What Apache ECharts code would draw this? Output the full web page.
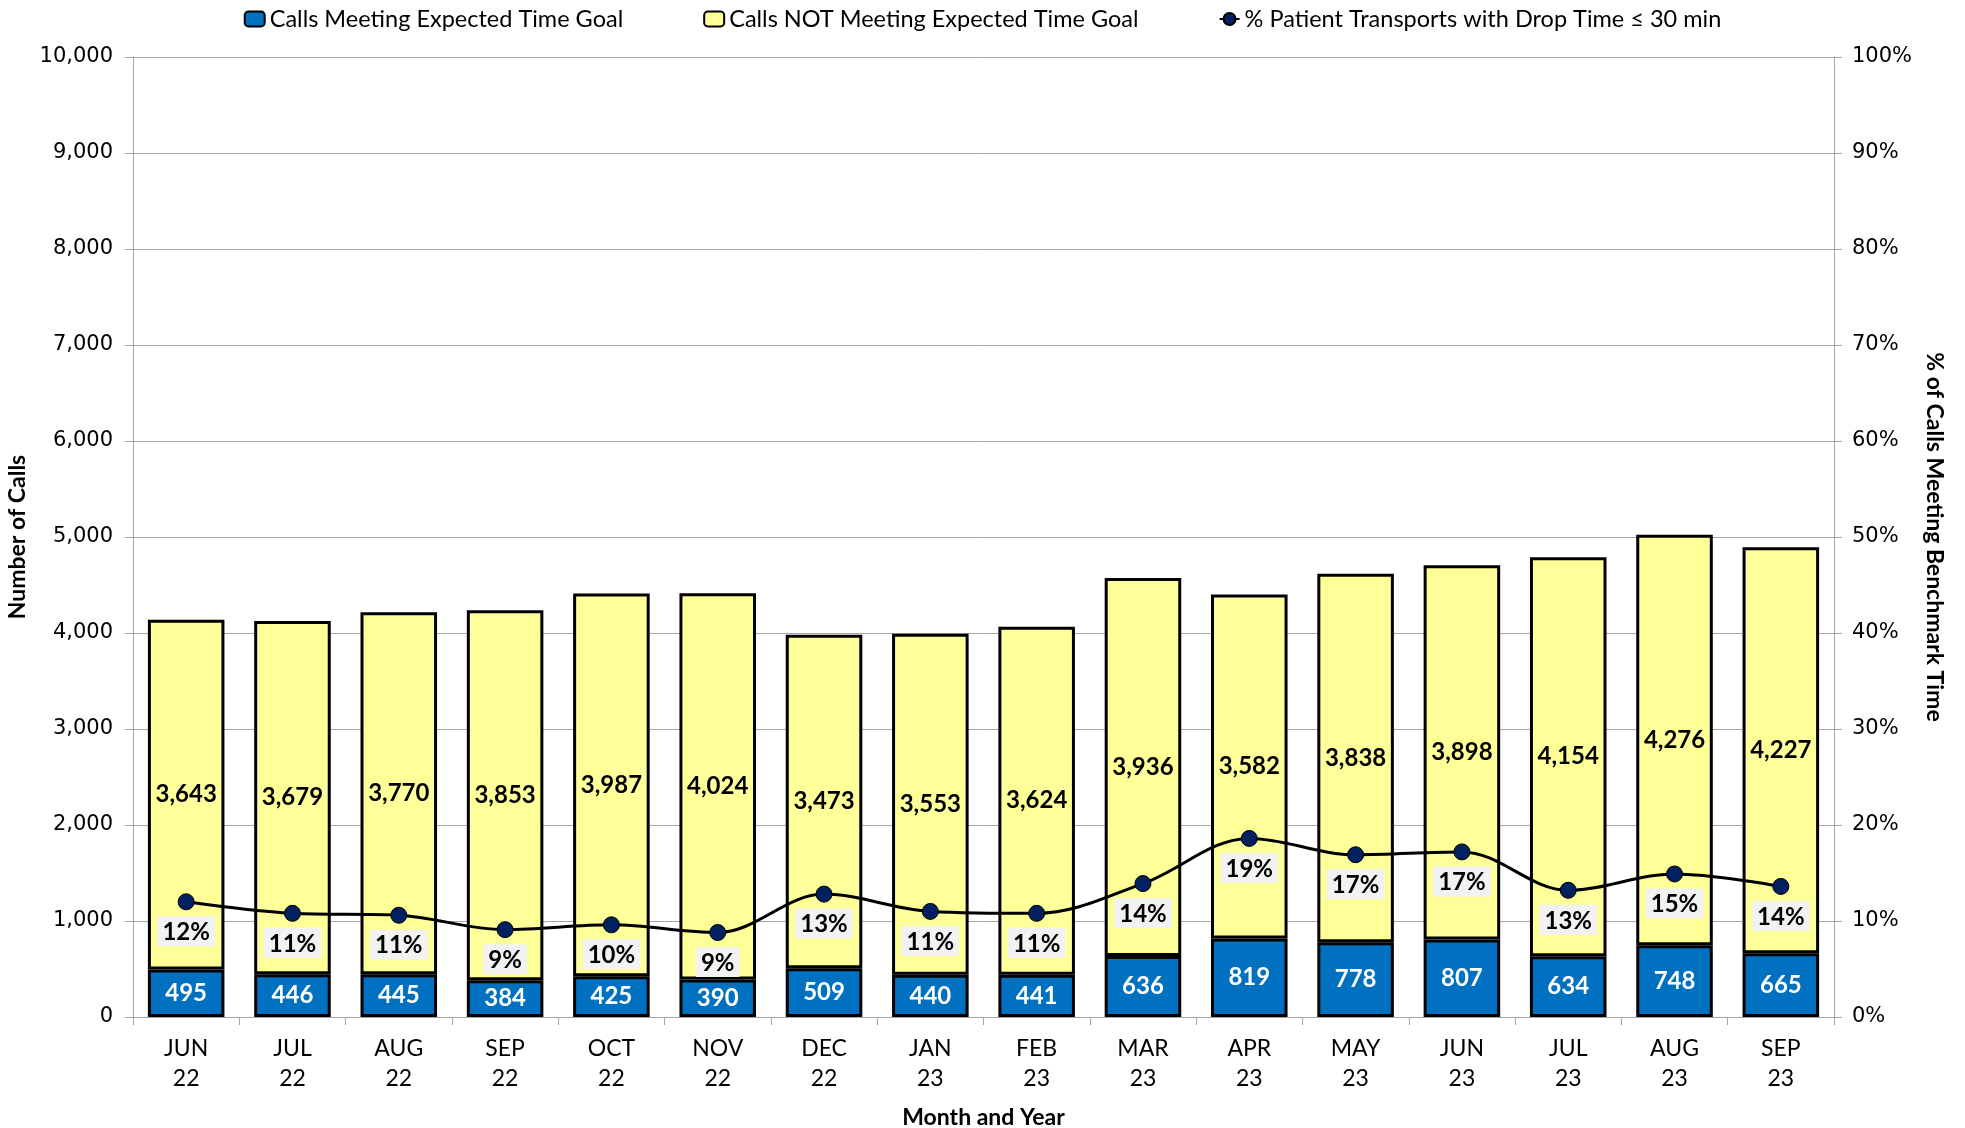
<!DOCTYPE html>
<html>
<head>
<meta charset="utf-8">
<script src="https://cdn.jsdelivr.net/npm/echarts@6/dist/echarts.min.js"></script>
<style>html,body{margin:0;padding:0;background:#fff}#c{width:1965px;height:1128px}</style>
</head>
<body>
<div id="c"></div>
<script>
const categories = ['JUN\n22','JUL\n22','AUG\n22','SEP\n22','OCT\n22','NOV\n22','DEC\n22','JAN\n23','FEB\n23','MAR\n23','APR\n23','MAY\n23','JUN\n23','JUL\n23','AUG\n23','SEP\n23'];
const meeting = [495,446,445,384,425,390,509,440,441,636,819,778,807,634,748,665];
const notMeeting = [3643,3679,3770,3853,3987,4024,3473,3553,3624,3936,3582,3838,3898,4154,4276,4227];
const pctDrop = [12.0,10.8,10.6,9.1,9.6,8.8,12.8,11.0,10.8,13.9,18.6,16.9,17.2,13.2,14.9,13.6];

const narrow = 'Lato, "Open Sans", sans-serif';
const wide = '"DejaVu Sans", Verdana, sans-serif';
const fmt = v => v.toLocaleString('en-US');

const chart = echarts.init(document.getElementById('c'), null, {renderer:'canvas'});
chart.setOption({
  animation:false,
  backgroundColor:'#fff',
  grid:{left:133,right:131,top:57,bottom:111,containLabel:false,outerBoundsMode:'none'},
  legend:{
    top:2,left:'center',itemGap:80,itemWidth:20,itemHeight:15,
    textStyle:{fontFamily:narrow,fontSize:23.5,color:'#000'},
    data:[
      {name:'Calls Meeting Expected Time Goal',icon:'roundRect'},
      {name:'Calls NOT Meeting Expected Time Goal',icon:'roundRect'},
      {name:'% Patient Transports with Drop Time ≤ 30 min'}
    ]
  },
  xAxis:{
    type:'category',data:categories,
    name:'Month and Year',nameLocation:'middle',nameGap:89,
    nameTextStyle:{fontFamily:narrow,fontSize:23,fontWeight:'bold',color:'#000'},
    axisLine:{lineStyle:{color:'#a6a6a6',width:1}},
    axisTick:{show:true,alignWithLabel:false,length:8,lineStyle:{color:'#a6a6a6'}},
    axisLabel:{fontFamily:narrow,fontSize:23,color:'#000',lineHeight:30,margin:17,interval:0}
  },
  yAxis:[{
    type:'value',min:0,max:10000,interval:1000,
    name:'Number of Calls',nameLocation:'middle',nameGap:101,nameRotate:90,
    nameTextStyle:{fontFamily:narrow,fontSize:23,fontWeight:'bold',color:'#000'},
    axisLine:{show:true,lineStyle:{color:'#a6a6a6'}},
    axisTick:{show:true,length:8,lineStyle:{color:'#a6a6a6'}},
    axisLabel:{fontFamily:wide,fontSize:21,color:'#000',margin:20,formatter:v=>fmt(v)},
    splitLine:{lineStyle:{color:'#a6a6a6',width:1}}
  },{
    type:'value',min:0,max:100,interval:10,
    name:'% of Calls Meeting Benchmark Time',nameLocation:'middle',nameGap:88,nameRotate:-90,
    nameTextStyle:{fontFamily:narrow,fontSize:23,fontWeight:'bold',color:'#000'},
    axisLine:{show:true,lineStyle:{color:'#a6a6a6'}},
    axisTick:{show:true,length:8,lineStyle:{color:'#a6a6a6'}},
    axisLabel:{fontFamily:wide,fontSize:21,color:'#000',margin:18,formatter:v=>v+'%'},
    splitLine:{show:false}
  }],
  series:[{
    name:'Calls Meeting Expected Time Goal',type:'bar',stack:'calls',data:meeting,
    barCategoryGap:'28%',
    itemStyle:{color:'#0070C0',borderColor:'#000',borderWidth:3},
    label:{show:true,position:'inside',fontFamily:narrow,fontSize:24,fontWeight:'bold',color:'#fff',formatter:p=>fmt(p.value)}
  },{
    name:'Calls NOT Meeting Expected Time Goal',type:'bar',stack:'calls',data:notMeeting,
    itemStyle:{color:'#FFFF99',borderColor:'#000',borderWidth:3},
    label:{show:true,position:'inside',fontFamily:narrow,fontSize:24,fontWeight:'bold',color:'#000',formatter:p=>fmt(p.value)}
  },{
    name:'% Patient Transports with Drop Time ≤ 30 min',type:'line',yAxisIndex:1,data:pctDrop,
    smooth:0.35,symbol:'circle',symbolSize:16,
    lineStyle:{color:'#000',width:3},
    itemStyle:{color:'#002060',borderColor:'#000',borderWidth:1},
    label:{show:true,position:'bottom',distance:6,fontFamily:narrow,fontSize:24,fontWeight:'bold',color:'#000',
      backgroundColor:'#F2F2F2',padding:[4,5,2,5],formatter:p=>Math.round(p.value)+'%'},
    z:5
  }]
});
</script>
</body>
</html>
